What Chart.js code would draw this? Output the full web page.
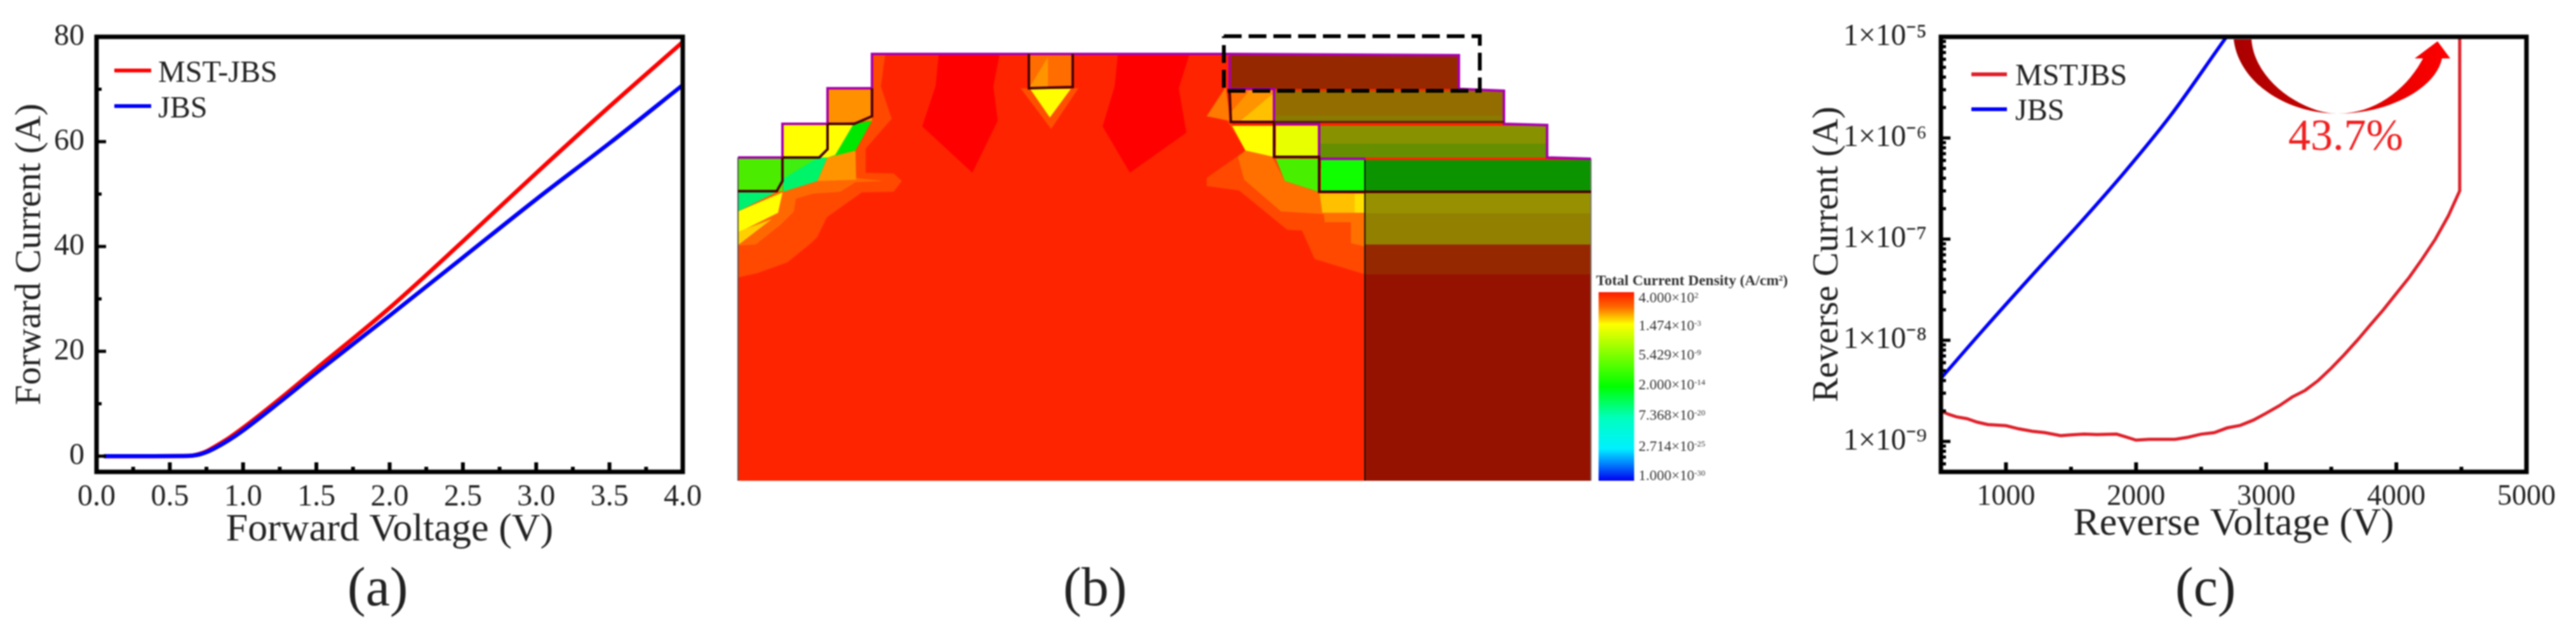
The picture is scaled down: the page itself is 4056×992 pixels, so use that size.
<!DOCTYPE html>
<html><head><meta charset="utf-8">
<script src="https://cdn.jsdelivr.net/npm/chart.js@4"></script>
<style>
html,body{margin:0;padding:0;background:#fff;width:4056px;height:992px;overflow:hidden}
#wrap{position:absolute;left:0;top:0;width:4056px;height:992px;filter:blur(1.3px);font-family:"Liberation Serif",serif;color:#222}
canvas{position:absolute}
.t{position:absolute;white-space:nowrap;line-height:1;transform:translateY(-50%)}
.sw{position:absolute;height:6px;transform:translateY(-50%)}
.cb{font-size:23px;color:#333}
.cb sup{font-size:13px;vertical-align:7px;line-height:0}
svg{position:absolute;left:0;top:0}
</style></head><body>
<div id="wrap">
<div style="position:absolute;left:0;top:0;width:1150px;height:992px"><canvas id="ca"></canvas></div>
<div style="position:absolute;left:1100px;top:0;width:1500px;height:992px"><canvas id="cb"></canvas></div>
<div style="position:absolute;left:2840px;top:0;width:1216px;height:992px"><canvas id="cc"></canvas></div>
<svg width="4056" height="992"><defs><linearGradient id="g" x1="0" x2="1" y1="0" y2="0"><stop offset="0" stop-color="#a80000"/><stop offset="0.45" stop-color="#d00000"/><stop offset="1" stop-color="#ff0000"/></linearGradient></defs>
<path d="M3517,62 C3525,130 3600,179 3681,179 C3760,179 3835,140 3845,92 L3858,92 L3838,65 L3802,92 L3815,92 C3790,140 3740,179 3681,179 C3630,179 3550,130 3545,62 Z" fill="url(#g)"/></svg>
<div class="sw" style="left:180px;top:111px;width:58px;background:#ff0000"></div>
<div class="t" style="left:249px;top:113px;font-size:48px">MST-JBS</div>
<div class="sw" style="left:180px;top:167px;width:58px;background:#0000ff"></div>
<div class="t" style="left:249px;top:169px;font-size:48px">JBS</div>
<div class="sw" style="left:3104px;top:117px;width:56px;background:#e0202a"></div>
<div class="t" style="left:3173px;top:118px;font-size:48px">MSTJBS</div>
<div class="sw" style="left:3104px;top:172px;width:56px;background:#0000ff"></div>
<div class="t" style="left:3173px;top:173px;font-size:48px">JBS</div>
<div class="t" style="left:3603px;top:213px;font-size:70px;color:#f02020">43.7%</div>
<div class="t" style="left:547px;top:924px;font-size:86px">(a)</div>
<div class="t" style="left:1674px;top:924px;font-size:86px">(b)</div>
<div class="t" style="left:3425px;top:924px;font-size:86px">(c)</div>
<div class="t cb" style="left:2513px;top:442px;font-weight:bold;font-size:23.5px">Total Current Density (A/cm<sup>2</sup>)</div>
<div id="cbl"></div>
</div>
<script>
// (a) forward I-V
const forwardV=[0.05,0.3,0.6,0.65,0.7,0.75,0.8,0.9,1.0,1.25,1.5,2.0,2.5,3.0,3.5,4.0];
const mstJbsForward=[0,0,0.02,0.1,0.4,0.9,1.7,3.4,5.4,10.9,16.7,28.3,41,54,66.7,79];
const jbsForward=[0,0,0.02,0.08,0.3,0.75,1.4,3.0,4.9,10.3,15.9,26.8,37.9,49,59.7,70.8];
const aXTicks=[0,0.5,1,1.5,2,2.5,3,3.5,4];
const aXTickLabels=['0.0','0.5','1.0','1.5','2.0','2.5','3.0','3.5','4.0'];
const aXMinor=[0.25,0.75,1.25,1.75,2.25,2.75,3.25,3.75];
const aYTicks=[0,20,40,60,80];
const aYMinor=[10,30,50,70];
// (c) reverse I-V
const mstReverseV=[500,560,620,700,780,860,1000,1100,1200,1300,1420,1500,1600,1700,1850,1920,2000,2100,2300,2400,2500,2600,2700,2800,2900,3000,3100,3200,3300,3400,3500,3600,3700,3800,3900,4000,4100,4200,4300,4400,4487,4487];
const mstReverse=[2e-9,1.85e-9,1.75e-9,1.68e-9,1.55e-9,1.47e-9,1.43e-9,1.33e-9,1.26e-9,1.22e-9,1.14e-9,1.16e-9,1.18e-9,1.17e-9,1.18e-9,1.11e-9,1.03e-9,1.05e-9,1.05e-9,1.1e-9,1.18e-9,1.22e-9,1.36e-9,1.44e-9,1.62e-9,1.9e-9,2.25e-9,2.75e-9,3.2e-9,4.0e-9,5.3e-9,7.2e-9,1.0e-8,1.42e-8,2.0e-8,2.9e-8,4.2e-8,6.4e-8,1.0e-7,1.7e-7,3e-7,1e-5];
const jbsReverseV=[500,816,1247,1560,1912,2264,2695,2760];
const jbsReverse=[4.2e-9,1.23e-8,5.1e-8,1.4e-7,4.6e-7,1.66e-6,1e-5,1.3e-5];
const cXTicks=[1000,2000,3000,4000,5000];
const cXMinor=[1500,2500,3500,4500];
const cYTicks=[1e-9,1e-8,1e-7,1e-6,1e-5];
const cYTickLabels=['1×10⁻⁹','1×10⁻⁸','1×10⁻⁷','1×10⁻⁶','1×10⁻⁵'];
const cYMinor=[6e-10,7e-10,8e-10,9e-10,2e-9,3e-9,4e-9,5e-9,6e-9,7e-9,8e-9,9e-9,2e-8,3e-8,4e-8,5e-8,6e-8,7e-8,8e-8,9e-8,2e-7,3e-7,4e-7,5e-7,6e-7,7e-7,8e-7,9e-7,2e-6,3e-6,4e-6,5e-6,6e-6,7e-6,8e-6,9e-6];
// (b) simulated contour regions
const silhouette=[[1162,757],[1162,248],[1232,248],[1232,195],[1303,195],[1303,139],[1373,139],[1373,85],[1937,85],[2297,87],[2297,140],[2368,143],[2368,195],[2436,197],[2436,248],[2505,250],[2505,757]];
const leftHalo=[[1162,437],[1193,430],[1240,413],[1277,383],[1287,373],[1302,342],[1357,303],[1407,302],[1420,285],[1407,273],[1363,272],[1363,234],[1404,187],[1387,136],[1394,85],[1373,85],[1373,139],[1303,139],[1303,195],[1232,195],[1232,248],[1162,248]];
const leftBand=[[1162,387],[1190,385],[1230,353],[1250,333],[1253,313],[1280,305],[1323,302],[1347,287],[1393,285],[1347,280],[1287,282],[1233,300],[1162,300]];
const leftOrange=[[1303,247],[1347,237],[1348,283],[1287,285]];
const leftCellCyan=[[1233,302],[1232,250],[1303,247],[1287,285]];
const leftCellGreen=[[1232,250],[1285,250],[1232,282]];
const leftGreenTri=[[1344,195],[1373,190],[1347,237],[1296,250],[1315,244]];
const stepCellGreen=[[1162,301],[1232,301],[1232,248],[1162,248]];
const stepCellYellow=[[1232,195],[1303,195],[1303,248],[1232,248]];
const stepCellYellow2=[[1303,195],[1344,195],[1315,244],[1303,248]];
const stepCellOrange=[[1303,139],[1373,139],[1373,190],[1303,195]];
const lowCyan=[[1162,302],[1223,302],[1162,333]];
const lowYellow=[[1162,333],[1232,303],[1225,335],[1165,365],[1162,365]];
const lowAmber=[[1162,365],[1215,345],[1162,386]];
const leftFinger=[[1478,85],[1574,85],[1564,136],[1571,190],[1531,272],[1452,199],[1473,136]];
const rightFinger=[[1760,85],[1873,85],[1856,139],[1868,209],[1779,272],[1736,199],[1755,136]];
const centerHalo=[[1607,139],[1698,139],[1655,203]];
const centerYellow=[[1622,140],[1686,140],[1653,185]];
const centerCell=[[1620,85],[1689,85],[1689,139],[1620,139]];
const centerWedge=[[1620,139],[1650,90],[1650,139]];
const rightHalo=[[1930,137],[1900,183],[1932,190],[1961,237],[1900,280],[1900,293],[1951,300],[2027,362],[2050,363],[2070,408],[2149,432],[2149,300],[1940,197]];
const rightBand=[[1961,237],[1949,247],[1959,283],[2017,333],[2084,337],[2086,350],[2127,350],[2127,383],[2149,388],[2149,305],[2078,303],[2023,285],[2003,247]];
const rightAmber=[[2078,305],[2149,305],[2149,335],[2082,335]];
const rightAmber2=[[2133,305],[2149,305],[2149,335],[2133,335]];
const rightGreen=[[2009,250],[2076,250],[2076,302],[2023,285]];
const rightGreen2=[[2080,250],[2149,250],[2149,300],[2080,300]];
const rightYellow=[[1940,198],[2005,198],[2005,247],[1961,237]];
const rightYellow2=[[2009,198],[2076,198],[2076,247],[2009,247]];
const rightCell=[[1937,142],[2005,142],[2005,192],[1937,192]];
const rightCellAmber=[[2005,147],[2005,192],[1951,192]];
const rightCellDeep=[[1938,143],[1967,143],[1938,177]];
const rightSliver=[[1930,137],[1936,190],[1900,183]];
const shade1=[[1937,87],[2297,87],[2297,140],[1937,140]];
const shade2=[[2007,143],[2367,143],[2367,192],[2007,192]];
const shade2b=[[2007,182],[2367,182],[2367,192],[2007,192]];
const shade3=[[2078,198],[2435,198],[2435,248],[2078,248]];
const shade3b=[[2078,226],[2435,226],[2435,248],[2078,248]];
const shade4=[[2150,252],[2504,252],[2504,300],[2150,300]];
const shade5=[[2150,304],[2504,304],[2504,336],[2150,336]];
const shade6=[[2150,336],[2504,336],[2504,385],[2150,385]];
const shade7=[[2150,385],[2504,385],[2504,432],[2150,432]];
const shade8=[[2150,432],[2504,432],[2504,757],[2150,757]];
const outerOutline=[[1162,248],[1232,248],[1232,195],[1303,195],[1303,139],[1373,139],[1373,85],[1937,85],[2297,87],[2297,140],[2368,143],[2368,195],[2436,197],[2436,248],[2505,250]];
const innerOutline=[[1936,88],[1936,140],[2006,140],[2006,195],[2077,195],[2077,250],[2150,250]];
const edgeLeft=[[1162,248],[1162,757]];
const edgeRight=[[2505,250],[2505,757]];
const darkA=[[1162,301],[1223,301],[1232,285],[1232,248]];
const darkB=[[1232,248],[1290,248],[1303,235],[1303,195]];
const darkC=[[1303,195],[1345,195],[1373,183],[1373,139]];
const darkD=[[1620,85],[1620,139],[1689,137],[1689,85]];
const darkE=[[1936,142],[1938,192],[2006,192],[2006,247],[2077,247],[2077,302],[2505,302]];
const darkF=[[2006,192],[2368,192]];
const thinLine=[[2149,250],[2149,757]];
const dashBox=[[1927,57],[2330,57],[2330,143],[1927,143],[1927,57]];
const colourBar=[[2517,460],[2573,460],[2573,757],[2517,757]];
const colourStops=[[0,'#ff1a00'],[0.08,'#ff6a00'],[0.17,'#ffff00'],[0.33,'#80ff00'],[0.5,'#00ff00'],[0.67,'#00ffc0'],[0.83,'#00f0ff'],[0.9,'#0090ff'],[1,'#0000f0']];
const colourLabels=['4.000×10|2','1.474×10|-3','5.429×10|-9','2.000×10|-14','7.368×10|-20','2.714×10|-25','1.000×10|-30'];
const colourLabelY=[468,512,558,605,653,702,748];

document.getElementById('cbl').innerHTML=colourLabels.map((s,i)=>{const p=s.split('|');return `<div class="t cb" style="left:2580px;top:${colourLabelY[i]}px">${p[0]}<sup>${p[1]}</sup></div>`}).join('');

const serif='"Liberation Serif", serif';
const pairs=(xs,ys)=>xs.map((x,i)=>({x,y:ys[i]}));
function framePlugin(xMaj,xMin,yMaj,yMin){return {id:'frame',afterDatasetsDraw(c){
  const g=c.ctx,a=c.chartArea,sx=c.scales.x,sy=c.scales.y;
  g.save();g.strokeStyle='#000';g.lineCap='butt';
  const tick=(x0,y0,x1,y1,w)=>{g.lineWidth=w;g.beginPath();g.moveTo(x0,y0);g.lineTo(x1,y1);g.stroke();};
  xMaj.forEach(v=>{const p=sx.getPixelForValue(v);tick(p,a.bottom,p,a.bottom-15,6)});
  xMin.forEach(v=>{const p=sx.getPixelForValue(v);tick(p,a.bottom,p,a.bottom-8,6)});
  yMaj.forEach(v=>{const p=sy.getPixelForValue(v);tick(a.left,p,a.left+15,p,5)});
  yMin.forEach(v=>{const p=sy.getPixelForValue(v);tick(a.left,p,a.left+8,p,5)});
  g.lineWidth=7;g.strokeRect(a.left,a.top,a.right-a.left,a.bottom-a.top);g.restore();}};}
function ivChart(id,datasets,o){return new Chart(document.getElementById(id),{type:'scatter',data:{datasets},
  plugins:[framePlugin(o.xMaj,o.xMin,o.yMaj,o.yMin)],
  options:{responsive:false,animation:false,devicePixelRatio:1,layout:{padding:o.pad},
    plugins:{legend:{display:false},tooltip:{enabled:false}},
    elements:{point:{radius:0}},
    scales:{
      x:{type:'linear',min:o.xr[0],max:o.xr[1],grid:{display:false},border:{display:false},
        title:{display:true,text:o.xt,color:'#222',padding:0,font:{family:serif,size:62,lineHeight:1}},
        ticks:{color:'#222',font:{family:serif,size:o.tf},padding:o.xp,maxRotation:0,autoSkip:false,callback:o.xf},
        afterBuildTicks:s=>{s.ticks=o.xMaj.map(v=>({value:v}))},afterFit:s=>{s.height=o.xh}},
      y:{type:o.yt,min:o.yr[0],max:o.yr[1],grid:{display:false},border:{display:false},
        title:{display:true,text:o.yl,color:'#222',padding:0,font:{family:serif,size:57,lineHeight:1}},
        ticks:{color:'#222',font:{family:serif,size:48},padding:o.yp,autoSkip:false,callback:o.yf},
        afterBuildTicks:s=>{s.ticks=o.yMaj.map(v=>({value:v}))},afterFit:s=>{s.width=o.yw}}
    }}});}
function size(id,w,h){const c=document.getElementById(id);c.width=w;c.height=h;c.style.width=w+'px';c.style.height=h+'px';}
size('ca',1150,992);size('cb',1500,992);size('cc',1216,992);

ivChart('ca',[
 {label:'JBS',data:pairs(forwardV,jbsForward),showLine:true,borderColor:'#0000ff',borderWidth:6.5,cubicInterpolationMode:'monotone'},
 {label:'MST-JBS',data:pairs(forwardV,mstJbsForward),showLine:true,borderColor:'#ff0000',borderWidth:6.5,cubicInterpolationMode:'monotone'}
],{pad:{left:20,right:75,top:58,bottom:126},xr:[0,4],yr:[-3,80],yt:'linear',xt:'Forward Voltage (V)',yl:'Forward Current (A)',
  xMaj:aXTicks,xMin:aXMinor,yMaj:aYTicks,yMin:aYMinor,tf:48,xp:4,yp:11,xh:123,yw:132,
  xf:(v)=>aXTickLabels[aXTicks.indexOf(v)],yf:v=>String(v)});

ivChart('cc',[
 {label:'JBS',data:pairs(jbsReverseV,jbsReverse),showLine:true,borderColor:'#0000ff',borderWidth:5.5,cubicInterpolationMode:'monotone'},
 {label:'MSTJBS',data:pairs(mstReverseV,mstReverse),showLine:true,borderColor:'#e0202a',borderWidth:5}
],{pad:{left:10,right:78,top:58,bottom:135},xr:[500,5000],yr:[5e-10,1e-5],yt:'logarithmic',xt:'Reverse Voltage (V)',yl:'Reverse Current (A)',
  xMaj:cXTicks,xMin:cXMinor,yMaj:cYTicks,yMin:cYMinor,tf:46,xp:4,yp:14,xh:114,yw:206,
  xf:v=>String(v),yf:v=>cYTickLabels[cYTicks.findIndex(t=>Math.abs(t-v)/t<0.01)]});

// fill layers bottom to top
const fillLayers=[
 [silhouette,'#ff2400'],[leftHalo,'#ff4800'],[leftBand,'#ff6800'],[leftOrange,'#ff9400'],[leftCellCyan,'#00f46a'],[leftCellGreen,'#40ee10'],[leftGreenTri,'#00e800'],
 [stepCellGreen,'#4cec00'],[stepCellYellow,'#ffff00'],[stepCellYellow2,'#ffff00'],[stepCellOrange,'#ff9000'],[lowCyan,'#00f070'],[lowYellow,'#ffff00'],[lowAmber,'#ffd000'],
 [leftFinger,'#ff0000'],[rightFinger,'#ff0000'],[centerHalo,'#ff5000'],[centerYellow,'#ffff00'],[centerCell,'#ff6c00'],[centerWedge,'#ff9400'],
 [rightHalo,'#ff4800'],[rightSliver,'#ff7a00'],[rightBand,'#ff7000'],[rightAmber,'#ffc000'],[rightAmber2,'#ffe000'],[rightGreen,'#48f000'],[rightGreen2,'#10ff00'],[rightYellow,'#ffff00'],[rightYellow2,'#e8ff00'],
 [rightCell,'#ff9400'],[rightCellAmber,'#ffc000'],[rightCellDeep,'#ff7000'],
 [shade1,'#962800'],[shade2,'#936d00'],[shade2b,'#8a7a00'],[shade3,'#889200'],[shade3b,'#668f00'],[shade4,'#0c9400'],[shade5,'#979000'],[shade6,'#928000'],[shade7,'#962800'],[shade8,'#961200']
];
const lineLayers=[
 [edgeLeft,'#555',2,[]],[edgeRight,'#777',2,[]],[thinLine,'#111',2,[]],[outerOutline,'#a800b0',4,[]],[innerOutline,'#a800b0',4,[]],
 [darkA,'#4a0000',4,[]],[darkB,'#4a0000',4,[]],[darkC,'#4a0000',4,[]],[darkD,'#4a0000',4,[]],[darkE,'#4a0000',4,[]],[darkF,'#4a2000',3,[]],
 [dashBox,'#000',6,[28,11]]
];
const toPts=p=>p.map(q=>({x:q[0],y:q[1]}));
const ds=[];
fillLayers.forEach(l=>ds.push({data:toPts(l[0]),showLine:true,borderWidth:0,borderColor:'transparent',backgroundColor:l[1],fill:'shape',pointRadius:0,tension:0}));
ds.push({data:toPts(colourBar),showLine:true,borderWidth:0,borderColor:'transparent',fill:'shape',pointRadius:0,tension:0,
  backgroundColor:c=>{const s=c.chart.scales.y;if(!s||!c.chart.chartArea)return '#ff0000';
    const g=c.chart.ctx.createLinearGradient(0,s.getPixelForValue(colourBar[0][1]),0,s.getPixelForValue(colourBar[2][1]));
    colourStops.forEach(t=>g.addColorStop(t[0],t[1]));return g;}});
lineLayers.forEach(l=>ds.push({data:toPts(l[0]),showLine:true,borderWidth:l[2],borderColor:l[1],borderDash:l[3],fill:false,pointRadius:0,tension:0}));
ds.reverse();
new Chart(document.getElementById('cb'),{type:'scatter',data:{datasets:ds},options:{responsive:false,animation:false,devicePixelRatio:1,
  layout:{padding:0},plugins:{legend:{display:false},tooltip:{enabled:false}},
  scales:{x:{type:'linear',min:1100,max:2600,display:false},y:{type:'linear',min:0,max:992,reverse:true,display:false}}}});
</script>
</body></html>
